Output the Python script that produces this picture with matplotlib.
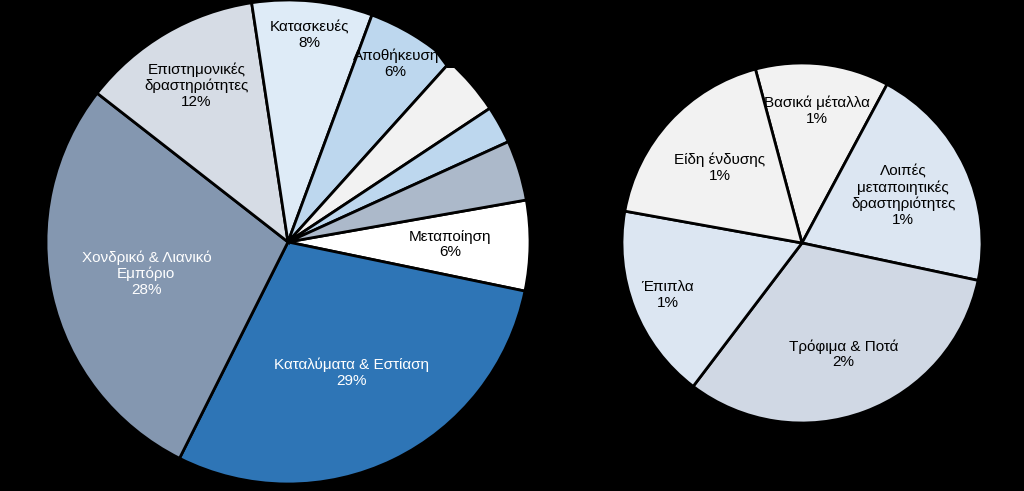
import numpy as np
import matplotlib.pyplot as plt
from matplotlib.patches import Polygon

plt.rcParams['font.family'] = ['Liberation Sans', 'DejaVu Sans']

# -------- DATA --------
big_labels = ['Μεταποίηση', 'Καταλύματα & Εστίαση', 'Χονδρικό & Λιανικό\nΕμπόριο',
              'Επιστημονικές\nδραστηριότητες', 'Κατασκευές', 'Αποθήκευση', '', '', '']
big_values = [6, 29, 28, 12, 8, 6, 4, 2.5, 4]
big_pct = ['6%', '29%', '28%', '12%', '8%', '6%', '', '', '']
big_colors = ['#ffffff', '#2e75b6', '#8497b0', '#d6dce5', '#deebf7',
              '#bdd7ee', '#f2f2f2', '#bdd7ee', '#acb9ca']
big_dist = [0.67, 0.6, 0.6, 0.75, 0.86, 0.86, 0, 0, 0]
big_txt = ['black', 'white', 'white', 'black', 'black', 'black', 'black', 'black', 'black']

small_labels = ['Βασικά μέταλλα', 'Λοιπές\nμεταποιητικές\nδραστηριότητες',
                'Τρόφιμα & Ποτά', 'Έπιπλα', 'Είδη ένδυσης']
small_values = [1.2, 2.05, 3.2, 1.75, 1.8]
small_pct = ['1%', '1%', '2%', '1%', '1%']
small_colors = ['#f2f2f2', '#dce6f2', '#d0d8e4', '#dce6f2', '#f2f2f2']
small_dist = [0.74, 0.62, 0.66, 0.8, 0.62]
# ----------------------

W, H = 1024, 491
fig = plt.figure(figsize=(W / 100, H / 100), dpi=100, facecolor='black')


def draw_pie(cx, cy, r, values, labels, pcts, colors, dists, txtcolors, start):
    ax = fig.add_axes([(cx - r) / W, (H - cy - r) / H, 2 * r / W, 2 * r / H])
    ax.set_facecolor('black')
    wedges, _ = ax.pie(values, colors=colors, startangle=start, counterclock=False,
                       wedgeprops=dict(edgecolor='black', linewidth=2))
    for w, lab, pct, d, tc in zip(wedges, labels, pcts, dists, txtcolors):
        if not lab:
            continue
        a = np.deg2rad((w.theta1 + w.theta2) / 2)
        ax.text(d * np.cos(a), d * np.sin(a), lab + '\n' + pct, ha='center', va='center',
                fontsize=11, color=tc, linespacing=1.15)
    ax.set_xlim(-1, 1)
    ax.set_ylim(-1, 1)
    ax.axis('off')


draw_pie(288, 242, 242, big_values, big_labels, big_pct, big_colors, big_dist, big_txt, 10)
draw_pie(802, 243, 180, small_values, small_labels, small_pct, small_colors, small_dist,
         ['black'] * 5, 105)

# black mask covering the top of the big pie as in the source image
pts = [(400, 0), (400, 26), (432, 26), (432, 48), (447, 68), (640, 68), (640, 0)]
fig.patches.append(Polygon([(x / W, 1 - y / H) for x, y in pts], closed=True,
                           transform=fig.transFigure, facecolor='black', edgecolor='none',
                           zorder=10))

fig.savefig('out.png', dpi=100, facecolor='black')
